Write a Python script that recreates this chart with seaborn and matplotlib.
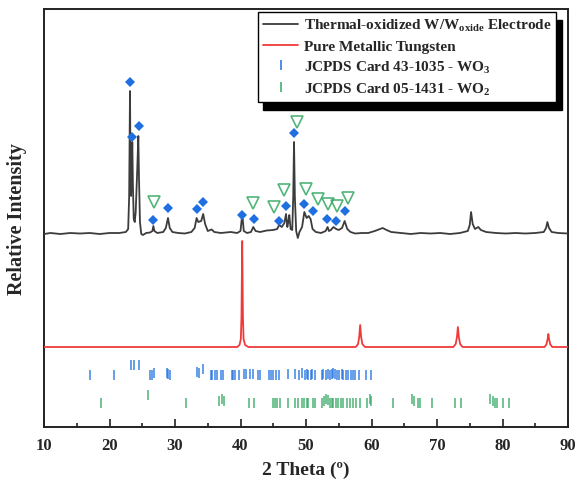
import numpy as np
import pandas as pd
import matplotlib
matplotlib.use("Agg")
import matplotlib.pyplot as plt
from matplotlib.lines import Line2D
from matplotlib.ticker import MultipleLocator
import seaborn as sns

# ---- XRD pattern of the thermally oxidized electrode (offset trace) ----
tt_oxide = [10.0, 11.0, 12.5, 14.0, 15.5, 17.0, 18.5, 20.0, 21.5, 22.5, 22.85,
            23.0, 23.13, 23.22, 23.3, 23.38, 23.48, 23.58, 23.7, 23.85, 24.0,
            24.25, 24.4, 24.5, 24.65, 24.85, 25.1, 25.6, 26.2, 26.55, 26.7,
            26.85, 27.3, 28.2, 28.6, 28.93, 29.2, 29.6, 30.5, 31.5, 32.5, 33.0,
            33.3, 33.55, 34.0, 34.3, 34.6, 35.0, 35.6, 36.0, 37.0, 38.5, 39.5,
            40.0, 40.27, 40.5, 41.0, 41.6, 41.95, 42.3, 43.0, 44.0, 45.0, 45.6,
            45.9, 46.3, 46.7, 46.95, 47.15, 47.3, 47.45, 47.65, 47.9, 48.05,
            48.17, 48.3, 48.5, 48.75, 49.0, 49.4, 49.75, 50.1, 50.4, 50.7,
            51.0, 51.5, 52.3, 53.0, 53.3, 53.5, 53.8, 54.2, 54.6, 55.0, 55.5,
            55.9, 56.3, 56.8, 57.5, 58.5, 59.5, 60.5, 61.3, 61.7, 62.3, 63.0,
            64.5, 66.0, 67.5, 69.0, 70.5, 72.0, 73.5, 74.7, 75.0, 75.2, 75.45,
            75.8, 76.3, 76.7, 77.5, 79.0, 80.5, 82.0, 83.5, 85.0, 86.3, 86.65,
            86.85, 87.1, 87.5, 88.5, 90.0]
int_oxide = [193, 194, 193, 194, 193.5, 194, 193, 194, 194, 195, 198,
             230, 336, 250, 231, 255, 285, 240, 208, 205, 215,
             260, 291, 250, 205, 193, 192, 194, 194.5, 196, 201,
             196, 194, 195, 199, 209, 199, 195, 194, 193.5, 195, 199,
             209, 205, 206, 213, 203, 196, 197.5, 195, 194, 195, 194,
             196, 213, 196, 194, 195, 200, 196, 195, 196.5, 197, 198,
             202, 200, 204, 213, 200, 205, 212, 198, 197, 230,
             285, 230, 196, 189, 195, 200, 215, 209, 211, 208,
             198, 195, 194, 196, 200, 196, 197, 200, 198, 197, 199,
             206, 198, 195, 193.5, 194, 194, 196, 198, 199, 197, 195,
             194, 193, 194, 193.5, 194, 193, 194, 196, 202, 215, 203,
             198, 200, 197, 195, 194, 193.5, 194, 193.5, 194, 195, 199,
             205, 199, 195, 194, 193.5]

# ---- XRD pattern of pure metallic tungsten ----
tt_w = [10, 20, 30, 39.5, 39.85, 40.05, 40.15, 40.26, 40.37, 40.47, 40.7,
        41.2, 50, 57.6, 57.95, 58.12, 58.27, 58.42, 58.6, 59.0, 66, 72.5,
        72.85, 73.05, 73.19, 73.33, 73.53, 73.9, 80, 86.4, 86.7, 86.88, 87.0,
        87.12, 87.3, 87.6, 90]
int_w = [80, 80, 80, 80, 82, 88, 110, 186, 110, 88, 82,
         80, 80, 80, 83, 90, 102, 90, 83, 80, 80, 80,
         83, 90, 100, 90, 83, 80, 80, 80, 82.5, 87.5, 93,
         87.5, 82.5, 80, 80]

# ---- peak assignments on the oxidized trace ----
wo3_mark_tt = [23.13, 23.48, 24.55, 26.69, 28.93, 33.31, 34.32, 40.27, 42.06,
               45.88, 46.95, 48.17, 49.69, 51.02, 53.16, 54.58, 55.95]
wo3_mark_y = [344.7, 289.7, 301.3, 207, 218.7, 218, 224.7, 212.3, 208,
              206.3, 221.3, 293.7, 223, 216.3, 208, 206.3, 215.7]
wo2_mark_tt = [26.79, 41.95, 45.11, 46.64, 48.67, 49.95, 51.88, 53.31, 54.69,
               56.41]
wo2_mark_y = [225.3, 224, 219.7, 237, 304.7, 238, 228, 223, 220.7, 228.7]

# ---- reference cards (stick positions) ----
wo3_card_tt = [17.02, 20.69, 23.23, 23.69, 24.50, 26.18, 26.49, 26.74, 28.73,
               28.98, 29.24, 33.31, 33.66, 34.22, 35.44, 35.70, 36.06, 36.37,
               36.98, 37.38, 38.70, 38.90, 39.21, 39.77, 40.53, 40.79, 41.45,
               41.96, 42.67, 42.98, 44.30, 44.61, 45.01, 45.42, 45.93, 47.25,
               48.27, 48.88, 49.39, 49.85, 50.10, 50.35, 50.71, 50.96, 51.37,
               52.39, 52.64, 53.05, 53.41, 53.66, 53.92, 54.17, 54.43, 54.78,
               55.08, 55.45, 55.70, 56.06, 56.46, 56.83, 57.13, 57.48, 58.14,
               59.16, 59.92]
wo3_card_y = [52, 52, 62, 62, 62, 52, 52, 54, 54,
              53, 52, 55, 54, 58, 52, 52, 52, 52,
              52, 52, 52, 52, 52, 52, 53, 53, 53,
              53, 52, 52, 52, 52, 52, 52, 52, 53,
              53, 52, 54, 52, 53, 52, 52, 53, 52,
              52, 53, 52, 53, 52, 53, 54, 53, 52,
              52, 53, 52, 52, 52, 52, 52, 52, 52,
              52, 52]
wo2_card_tt = [18.65, 25.83, 31.63, 36.77, 37.13, 37.53, 41.35, 42.01, 44.91,
               45.27, 45.62, 46.03, 47.25, 48.27, 48.83, 49.34, 49.69, 50.10,
               50.35, 51.02, 51.37, 52.39, 52.75, 53.05, 53.41, 53.66, 53.92,
               54.17, 54.58, 54.93, 55.29, 55.70, 56.21, 56.72, 57.23, 57.59,
               58.24, 59.26, 59.77, 59.92, 63.33, 66.13, 66.49, 67.15, 67.40,
               69.29, 72.75, 73.66, 78.09, 78.50, 78.85, 79.11, 80.12, 81.04]
wo2_card_y = [24.5, 32, 24.5, 26, 28, 26, 24.5, 24.5, 24.5,
              24.5, 24.5, 24.5, 24.5, 24.5, 24.5, 24.5, 24.5, 24.5,
              24.5, 24.5, 24.5, 24.5, 26, 28, 27, 24.5, 24.5,
              24.5, 24.5, 24.5, 24.5, 24.5, 24.5, 24.5, 24.5, 24.5,
              24.5, 24.5, 28, 26, 24.5, 28, 26, 24.5, 24.5,
              24.5, 24.5, 24.5, 28, 26, 24.5, 24.5, 24.5, 24.5]

sns.set_style("ticks")
plt.rcParams["font.family"] = ["Liberation Serif", "DejaVu Serif"]
plt.rcParams["font.weight"] = "bold"
plt.rcParams["mathtext.fontset"] = "custom"
plt.rcParams["mathtext.rm"] = "Liberation Serif:bold"
plt.rcParams["mathtext.it"] = "Liberation Serif:bold"
plt.rcParams["mathtext.bf"] = "Liberation Serif:bold"

fig = plt.figure(figsize=(5.77, 4.89), dpi=100)
ax = fig.add_axes([44 / 577, 1 - 428 / 489, 524 / 577, 418 / 489])

black_c = "#3c3c3c"
red_c = "#f03a3a"
blue_c = "#1f6fe0"
green_c = "#33a862"

df_ox = pd.DataFrame({"tt": tt_oxide, "I": int_oxide})
df_w = pd.DataFrame({"tt": tt_w, "I": int_w})
sns.lineplot(data=df_ox, x="tt", y="I", ax=ax, color=black_c, lw=1.3,
             sort=False, estimator=None, zorder=3)
sns.lineplot(data=df_w, x="tt", y="I", ax=ax, color=red_c, lw=1.3,
             sort=False, estimator=None, zorder=3)

# card sticks
ax.plot(wo3_card_tt, wo3_card_y, ls="none", marker="|", ms=7.2, mew=1.2,
        color=blue_c, alpha=0.8, zorder=2)
ax.plot(wo2_card_tt, wo2_card_y, ls="none", marker="|", ms=7.0, mew=1.2,
        color=green_c, alpha=0.8, zorder=2)

# phase markers
ax.plot(wo3_mark_tt, wo3_mark_y, ls="none", marker="D", ms=5.6, mew=0,
        color=blue_c, zorder=5)
ax.plot(wo2_mark_tt, wo2_mark_y, ls="none", marker="v", ms=8.0, mew=1.2,
        mfc="none", mec=green_c, alpha=0.85, zorder=4)

ax.set_xlim(10, 90)
ax.set_ylim(0, 418)
ax.xaxis.set_major_locator(MultipleLocator(10))
ax.xaxis.set_minor_locator(MultipleLocator(5))
ax.set_yticks([])
ax.tick_params(axis="x", which="major", direction="in", length=5.5, width=1.2,
               labelsize=12, pad=7, top=False, color="#222222")
ax.tick_params(axis="x", which="minor", direction="in", length=3, width=1.2,
               top=False, color="#222222")
for lbl in ax.get_xticklabels():
    lbl.set_fontweight("bold")
for s in ax.spines.values():
    s.set_linewidth(1.4)
    s.set_color("#222222")

ax.set_xlabel("2 Theta (º)", fontsize=14, fontweight="bold", labelpad=6)
ax.set_ylabel("Relative Intensity", fontsize=14.5, fontweight="bold",
              labelpad=12)

handles = [
    Line2D([], [], color=black_c, lw=1.3),
    Line2D([], [], color=red_c, lw=1.3),
    Line2D([], [], ls="none", marker="|", ms=7, mew=1.1, color=blue_c),
    Line2D([], [], ls="none", marker="|", ms=7, mew=1.1, color=green_c),
]
labels = [
    "Thermal-oxidized W/W$_{\\mathrm{oxide}}$ Electrode",
    "Pure Metallic Tungsten",
    "JCPDS Card 43-1035 - WO$_3$",
    "JCPDS Card 05-1431 - WO$_2$",
]
leg = ax.legend(handles, labels, loc="upper right",
                bbox_to_anchor=(0.978, 0.993), borderaxespad=0,
                prop={"family": "Liberation Serif", "weight": "bold",
                      "size": 11},
                frameon=True, fancybox=False, edgecolor="black",
                framealpha=1, handlelength=2.3, handletextpad=0.35,
                borderpad=0.35, labelspacing=0.38,
                shadow={"ox": 4, "oy": -5.5, "color": "black", "alpha": 1})
leg.get_frame().set_linewidth(1.0)

fig.savefig("out.png", dpi=100)
